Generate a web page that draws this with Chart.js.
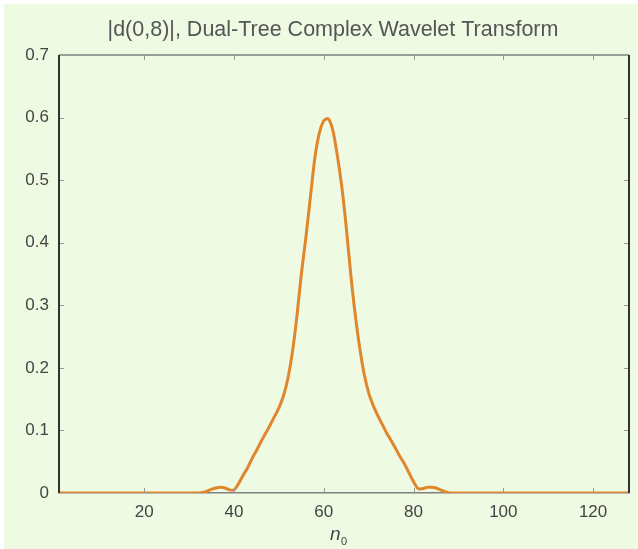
<!DOCTYPE html>
<html>
<head>
<meta charset="utf-8">
<script src="https://cdn.jsdelivr.net/npm/chart.js@4"></script>
<style>
  html, body { margin: 0; padding: 0; background: #ffffff; }
  #wrap { width: 638px; height: 549px; }
</style>
</head>
<body>
<div id="wrap"><canvas id="grafica" width="638" height="549"></canvas></div>
<script>
// n0 de 1 a 128
const posiciones = [];
for (let n = 1; n <= 128; n++) posiciones.push(n);

// |d(0,8)| (n = 1..128)
const magnitudes = [
  0, 0, 0, 0, 0, 0, 0, 0, 0, 0,                 // 1-10
  0, 0, 0, 0, 0, 0, 0, 0, 0, 0,                 // 11-20
  0, 0, 0, 0, 0, 0, 0, 0, 0, 0,                 // 21-30
  0, 0, 0.001, 0.003, 0.006, 0.008, 0.009, 0.008, 0.005, 0.005, // 31-40
  0.015, 0.028, 0.040, 0.055, 0.068, 0.082, 0.095, 0.108, 0.122, 0.136, // 41-50
  0.155, 0.183, 0.225, 0.282, 0.350, 0.408, 0.472, 0.535, 0.575, 0.595, // 51-60
  0.598, 0.580, 0.540, 0.490, 0.425, 0.350, 0.285, 0.232, 0.190, 0.160, // 61-70
  0.140, 0.124, 0.110, 0.096, 0.084, 0.071, 0.058, 0.046, 0.032, 0.018, // 71-80
  0.007, 0.007, 0.009, 0.009, 0.008, 0.005, 0.002, 0, 0, 0,             // 81-90
  0, 0, 0, 0, 0, 0, 0, 0, 0, 0,                 // 91-100
  0, 0, 0, 0, 0, 0, 0, 0, 0, 0,                 // 101-110
  0, 0, 0, 0, 0, 0, 0, 0, 0, 0,                 // 111-120
  0, 0, 0, 0, 0, 0, 0, 0                        // 121-128
];

const ticksX = [20, 40, 60, 80, 100, 120];
const ticksY = [0, 0.1, 0.2, 0.3, 0.4, 0.5, 0.6, 0.7];
const titulo = '|d(0,8)|, Dual-Tree Complex Wavelet Transform';

const fuente = "'Liberation Sans', Arial, sans-serif";

// fondo verde claro con borde blanco
const fondo = {
  id: 'fondo',
  beforeDraw(chart) {
    const c = chart.ctx;
    c.save();
    c.fillStyle = '#ffffff';
    c.fillRect(0, 0, chart.width, chart.height);
    c.fillStyle = '#effae3';
    c.fillRect(4, 4, chart.width - 4, chart.height - 4);
    c.restore();
  }
};

// marco, marcas hacia adentro y textos, como matlab
const marco = {
  id: 'marco',
  afterDatasetsDraw(chart) {
    const c = chart.ctx;
    const a = chart.chartArea;
    const sx = chart.scales.x, sy = chart.scales.y;
    c.save();
    c.strokeStyle = '#999999';
    c.lineWidth = 1;
    ticksX.forEach(v => {
      const px = Math.round(sx.getPixelForValue(v)) + 0.5;
      c.beginPath();
      c.moveTo(px, a.bottom); c.lineTo(px, a.bottom - 5);
      c.moveTo(px, a.top); c.lineTo(px, a.top + 5);
      c.stroke();
    });
    ticksY.slice(1, -1).forEach(v => {
      const py = Math.round(sy.getPixelForValue(v)) + 0.5;
      c.beginPath();
      c.moveTo(a.left, py); c.lineTo(a.left + 5, py);
      c.moveTo(a.right, py); c.lineTo(a.right - 5, py);
      c.stroke();
    });
    // arriba gris
    c.strokeStyle = '#808080';
    c.lineWidth = 1.5;
    c.beginPath();
    c.moveTo(a.left, a.top); c.lineTo(a.right, a.top);
    c.stroke();
    // izquierda y derecha oscuro
    c.strokeStyle = '#333333';
    c.lineWidth = 2;
    c.beginPath();
    c.moveTo(a.left, a.top); c.lineTo(a.left, a.bottom);
    c.moveTo(a.right, a.top); c.lineTo(a.right, a.bottom);
    c.stroke();
    // titulo
    c.fillStyle = '#555555';
    c.textAlign = 'center';
    c.textBaseline = 'middle';
    c.font = '21.5px ' + fuente;
    c.fillText(titulo, 333, 30);
    // etiqueta n0
    const cx = (a.left + a.right) / 2;
    c.fillStyle = '#444444';
    c.textBaseline = 'alphabetic';
    c.textAlign = 'left';
    c.font = 'italic 19px ' + fuente;
    c.fillText('n', cx - 14, 540);
    c.font = '11px ' + fuente;
    c.fillText('0', cx - 3, 545);
    c.restore();
  }
};

document.addEventListener('DOMContentLoaded', function () {
  const ctx = document.getElementById('grafica').getContext('2d');
  new Chart(ctx, {
    type: 'line',
    data: {
      labels: posiciones,
      datasets: [{
        label: '|d(0,8)|',
        data: magnitudes.map((v, i) => ({ x: posiciones[i], y: v })),
        borderColor: '#e0862c',
        borderWidth: 3,
        pointRadius: 0,
        tension: 0.3,
        fill: false
      }]
    },
    options: {
      responsive: false,
      animation: false,
      layout: { padding: { left: 0, right: 9, top: 55, bottom: 0 } },
      plugins: {
        legend: { display: false },
        tooltip: { enabled: false },
        title: { display: false }
      },
      scales: {
        x: {
          type: 'linear',
          min: 1,
          max: 128,
          afterBuildTicks: s => { s.ticks = ticksX.map(v => ({ value: v })); },
          afterFit: s => { s.height = 56; },
          grid: { display: false, drawTicks: false },
          border: { display: true, color: '#808080', width: 1.5 },
          ticks: {
            color: '#444444',
            padding: 9,
            maxRotation: 0,
            font: { family: fuente, size: 17 }
          }
        },
        y: {
          min: 0,
          max: 0.7,
          afterBuildTicks: s => { s.ticks = ticksY.map(v => ({ value: v })); },
          afterFit: s => { s.width = 59; },
          grid: { display: false, drawTicks: false },
          border: { display: false },
          ticks: {
            color: '#444444',
            padding: 10,
            font: { family: fuente, size: 17 },
            callback: v => (v === 0 ? '0' : v.toFixed(1))
          }
        }
      }
    },
    plugins: [fondo, marco]
  });
});
</script>
</body>
</html>
